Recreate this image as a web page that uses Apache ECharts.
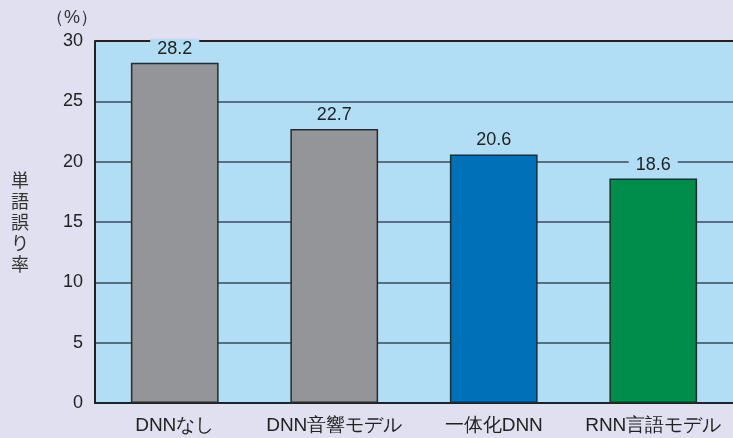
<!DOCTYPE html>
<html><head><meta charset="utf-8">
<script src="https://cdn.jsdelivr.net/npm/echarts@6/dist/echarts.min.js"></script>
<style>html,body{margin:0;padding:0;background:#e0e0f0;}#c{width:733px;height:438px;}</style>
</head><body><div id="c"></div>
<script>
var categories = ['DNNなし', 'DNN音響モデル', '一体化DNN', 'RNN言語モデル'];
var values = [28.2, 22.7, 20.6, 18.6];
var barColors = ['#939598', '#939598', '#0070b9', '#008c4b'];
var yTicks = [0, 5, 10, 15, 20, 25, 30];

var FONT = '"Liberation Sans", Arial, sans-serif';
var chart = echarts.init(document.getElementById('c'));
chart.setOption({
  backgroundColor: '#e0e0f0',
  animation: false,
  grid: {
    left: 95, top: 41, width: 644, bottom: 35,
    show: true, backgroundColor: '#b1ddf5', borderColor: '#222', borderWidth: 0
  },
  xAxis: {
    type: 'category',
    data: categories,
    axisLine: { show: true, lineStyle: { color: '#222', width: 2 } },
    axisTick: { show: false },
    axisLabel: { interval: 0, hideOverlap: false, color: '#222', fontSize: 19, fontFamily: FONT, margin: 13 }
  },
  yAxis: {
    type: 'value',
    min: yTicks[0], max: yTicks[yTicks.length - 1], interval: 5,
    axisLine: { show: true, lineStyle: { color: '#222', width: 2 } },
    axisTick: { show: false },
    axisLabel: { color: '#222', fontSize: 18, fontFamily: FONT, margin: 12 },
    splitLine: { show: true, lineStyle: { color: '#3a4a58', width: 1.5 } }
  },
  series: [{
    type: 'bar',
    barWidth: '55%',
    data: values.map(function (v, i) {
      return { value: v, itemStyle: { color: barColors[i] } };
    }),
    itemStyle: { borderColor: '#2a2a2a', borderWidth: 1.5 },
    label: {
      show: true, position: 'top', distance: 4,
      color: '#222', fontSize: 18, fontFamily: FONT,
      backgroundColor: '#b1ddf5', padding: [1, 7, 1, 7],
      formatter: function (p) { return p.value.toFixed(1); }
    }
  }],
  graphic: [
    { type: 'rect', shape: { x: 95, y: 40, width: 644, height: 2 }, style: { fill: '#222' }, z: 1 },
    { type: 'text', left: 46, top: 9, style: { text: '（%）', fill: '#333', font: '18px "Liberation Sans", Arial, sans-serif' } },
    { type: 'text', left: 11, top: 170, style: { text: '単\n語\n誤\nり\n率', fill: '#333', font: '18px "Noto Sans CJK JP", sans-serif', lineHeight: 21 } }
  ]
});
</script></body></html>
